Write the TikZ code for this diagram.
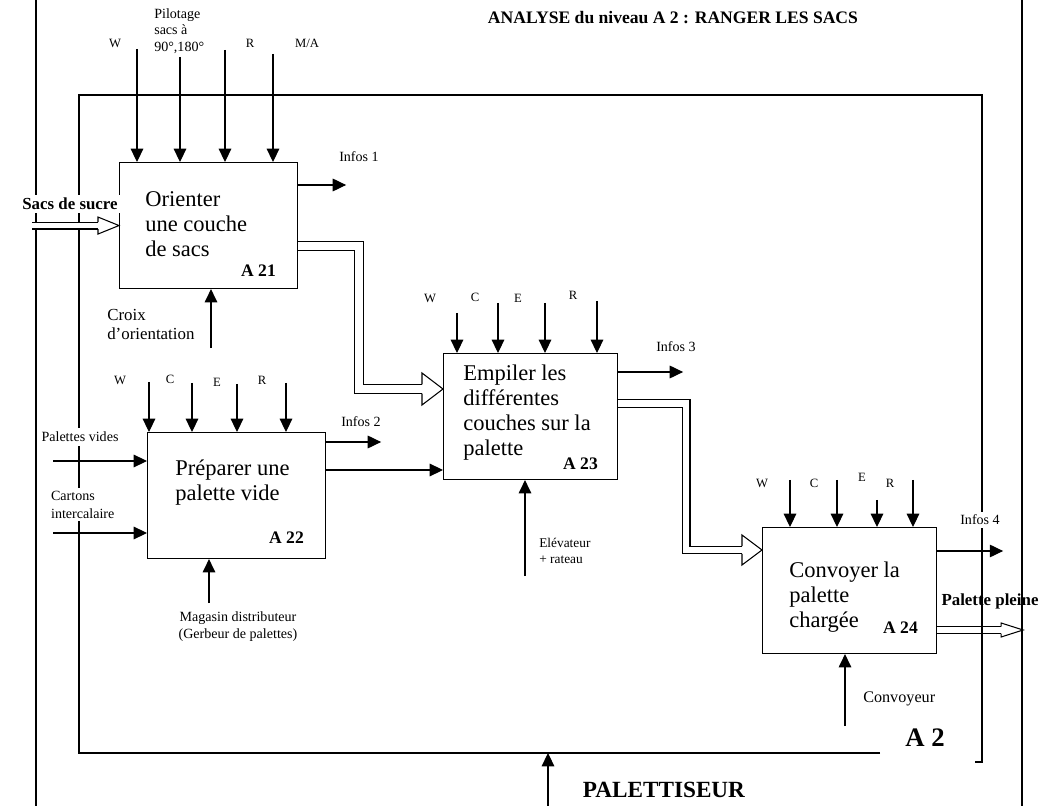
\documentclass[tikz,border=0pt]{standalone}
\usepackage{fontspec}
\setmainfont{Liberation Serif}
\usetikzlibrary{positioning, arrows.meta, calc}

% pointe creuse : #1 bout, #2 longueur, #3 demi-tete, #4 demi-tige
\newcommand{\pointe}[4]{%
  \draw[trait, fill=white] ($(#1)+(-#2,-#4)$) -- ++(0,#4-#3) -- (#1)
    -- ($(#1)+(-#2,#3)$) -- ++(0,#4-#3);}

\begin{document}
\begin{tikzpicture}[x=0.025cm, y=-0.025cm,
    trait/.style={line width=0.75pt},
    fleche/.style={trait, -{Triangle[length=9.5pt, width=9pt]}},
    boite/.style={draw, trait, anchor=north west, minimum height=3.15cm, inner sep=0pt},
    intitule/.style={anchor=north west, align=left, inner sep=0pt, font=\fontsize{16}{17.8}\selectfont},
    code/.style={anchor=base east, inner sep=0pt, font=\fontsize{12.5}{14}\selectfont\bfseries},
    lettre/.style={inner sep=0pt, font=\fontsize{9}{10}\selectfont},
    info/.style={inner sep=0pt, font=\fontsize{10}{12}\selectfont},
    tuyau/.style={trait, double, double distance=#1},
  ]
  \useasboundingbox (0,0) rectangle (1053,806);

  % boites
  \node[boite, minimum width=4.45cm] (a21) at (119,162) {};
  \node[boite, minimum width=4.45cm] (a22) at (147,432) {};
  \node[boite, minimum width=4.35cm] (a23) at (443,353) {};
  \node[boite, minimum width=4.35cm] (a24) at (762,527) {};

  \node[intitule] (t21) at ($(a21.north west)+(26,29.6)$) {Orienter\\une couche\\de sacs};
  \node[intitule] (t22) at ($(a22.north west)+(28,27.6)$) {Préparer une\\palette vide};
  \node[intitule] (t23) at ($(a23.north west)+(20,11.6)$) {Empiler les\\différentes\\couches sur la\\palette};
  \node[intitule] (t24) at ($(a24.north west)+(27,34.6)$) {Convoyer la\\palette\\chargée};
  \node[code] (c21) at ($(a21.south east)+(-22,-13)$) {A 21};
  \node[code] (c22) at ($(a22.south east)+(-22,-16)$) {A 22};
  \node[code] (c23) at ($(a23.south east)+(-20,-11)$) {A 23};
  \node[code] (c24) at ($(a24.south east)+(-19,-21)$) {A 24};

  % sortie palette pleine
  \coordinate (s24p) at ($(a24.north east)+(0,103)$);
  \coordinate (t24p) at ($(s24p)+(86,0)$);
  \draw[tuyau=4.2pt] (s24p) -- ($(t24p)+(-22,0)$);
  \pointe{t24p}{22}{7}{3.5}

  % cadres
  \draw[trait] (36,0) -- (36,806);
  \draw[trait] (1022,0) -- (1022,806);
  \draw[trait] (880,753) -- (79,753) -- (79,95) -- (982,95) -- (982,762) -- (975,762);
  \node[font=\fontsize{19}{22}\selectfont\bfseries] (a2) at (925,738) {A 2};
  \node[anchor=west, font=\fontsize{16.5}{19}\selectfont\bfseries] (pal) at (578,790) {PALETTISEUR};
  \draw[fleche] (548,806) -- (548,753);
  \node[anchor=west, font=\fontsize{12.5}{15}\selectfont\bfseries] (titre) at (483,18)
    {ANALYSE du niveau A 2 : RANGER LES SACS};

  % A21
  \foreach \dx/\h in {18/113, 61/105, 106/112, 154/108}
    \draw[fleche] ($(a21.north west)+(\dx,-\h)$) -- ($(a21.north west)+(\dx,0)$);
  \node[lettre] (w21) at (115,43) {W};
  \node[lettre] (r21) at (250,43) {R};
  \node[lettre] (ma21) at (307,43) {M/A};
  \node[anchor=north west, align=left, inner sep=0pt, font=\fontsize{10}{11.9}\selectfont] (pil) at (154,8)
    {Pilotage\\sacs à\\90°,180°};
  \draw[fleche] ($(a21.north east)+(0,23)$) -- ++(48,0);
  \node[info] (i1) at (359,157) {Infos 1};
  \node[fill=white, inner sep=2pt, font=\fontsize{12}{14}\selectfont\bfseries] (sacs) at (70,204) {Sacs de sucre};
  \coordinate (e21) at ($(a21.west)+(-87,0)$);
  \draw[tuyau=4.2pt] (e21) -- ($(a21.west)+(-21,0)$);
  \pointe{a21.west}{21}{8.5}{3.5}
  \draw[fleche] ($(a21.south west)+(92,59)$) -- ($(a21.south west)+(92,0)$);
  \node[anchor=north west, align=left, inner sep=0pt, font=\fontsize{12}{13.5}\selectfont] (croix) at (107,309)
    {Croix\\d'orientation};

  % A22
  \foreach \dx/\h in {2/50, 45/49, 90/48, 139/49}
    \draw[fleche] ($(a22.north west)+(\dx,-\h)$) -- ($(a22.north west)+(\dx,0)$);
  \foreach \n/\x/\y/\l in {w22/120/380/W, c22/170/379/C, e22/217/382/E, r22/262/380/R}
    \node[lettre] (\n) at (\x,\y) {\l};
  \node[info, fill=white, inner sep=3pt] (pv) at (80,437) {Palettes vides};
  \draw[fleche] ($(a22.north west)+(-94,29)$) -- ($(a22.north west)+(0,29)$);
  \node[fill=white, inner sep=2pt, anchor=north west, align=left, font=\fontsize{10}{12.8}\selectfont] (ci) at (48,488)
    {Cartons\\intercalaire};
  \draw[fleche] ($(a22.north west)+(-94,101)$) -- ($(a22.north west)+(0,101)$);
  \draw[fleche] ($(a22.north east)+(0,10)$) -- ++(55,0);
  \node[info] (i2) at (361,422) {Infos 2};
  \coordinate (s22) at ($(a22.north east)+(0,38)$);
  \draw[fleche] (s22) -- (s22 -| a23.west);
  \draw[fleche] ($(a22.south west)+(62,44)$) -- ($(a22.south west)+(62,0)$);
  \node[align=center, inner sep=0pt, font=\fontsize{10}{12}\selectfont] (mag) at (238,627)
    {Magasin distributeur\\(Gerbeur de palettes)};

  % A21 -> A23
  \coordinate (s21) at ($(a21.north east)+(0,84)$);
  \coordinate (t23) at ($(a23.north west)+(0,36)$);
  \draw[tuyau=5.8pt] (s21) -- ++(61,0) |- ($(t23)+(-21,0)$);
  \pointe{t23}{21}{16}{4.7}

  % A23
  \foreach \dx/\h in {14/40, 55/50, 102/50, 154/52}
    \draw[fleche] ($(a23.north west)+(\dx,-\h)$) -- ($(a23.north west)+(\dx,0)$);
  \foreach \n/\x/\y/\l in {w23/430/298/W, c23/475/297/C, e23/518/298/E, r23/573/295/R}
    \node[lettre] (\n) at (\x,\y) {\l};
  \draw[fleche] ($(a23.north east)+(0,19)$) -- ++(65,0);
  \node[info] (i3) at (676,347) {Infos 3};
  \draw[fleche] ($(a23.south west)+(82,96)$) -- ($(a23.south west)+(82,0)$);
  \node[anchor=north west, align=left, inner sep=0pt, font=\fontsize{9.5}{11}\selectfont] (elev) at (539,538)
    {Elévateur\\+ rateau};

  % A23 -> A24
  \coordinate (s23) at ($(a23.north east)+(0,50.5)$);
  \coordinate (t24) at ($(a24.north west)+(0,23)$);
  \draw[tuyau=4.8pt] (s23) -- ++(68,0) |- ($(t24)+(-20,0)$);
  \pointe{t24}{20}{15}{3.9}

  % A24
  \foreach \dx/\h in {28/47, 75/47, 115/27, 151/47}
    \draw[fleche] ($(a24.north west)+(\dx,-\h)$) -- ($(a24.north west)+(\dx,0)$);
  \foreach \n/\x/\y/\l in {w24/762/483/W, c24/814/483/C, e24/862/477/E, r24/890/483/R}
    \node[lettre] (\n) at (\x,\y) {\l};
  \draw[fleche] ($(a24.north east)+(0,24)$) -- ++(66,0);
  \node[info, fill=white, inner sep=2pt] (i4) at (980,520) {Infos 4};
  \node[font=\fontsize{12}{14}\selectfont\bfseries] (pp) at (990,601) {Palette pleine};
  \draw[fleche] ($(a24.south west)+(83,72)$) -- ($(a24.south west)+(83,0)$);
  \node[anchor=west, inner sep=0pt, font=\fontsize{11.5}{13}\selectfont] (conv) at (863,699) {Convoyeur};
\end{tikzpicture}
\end{document}
